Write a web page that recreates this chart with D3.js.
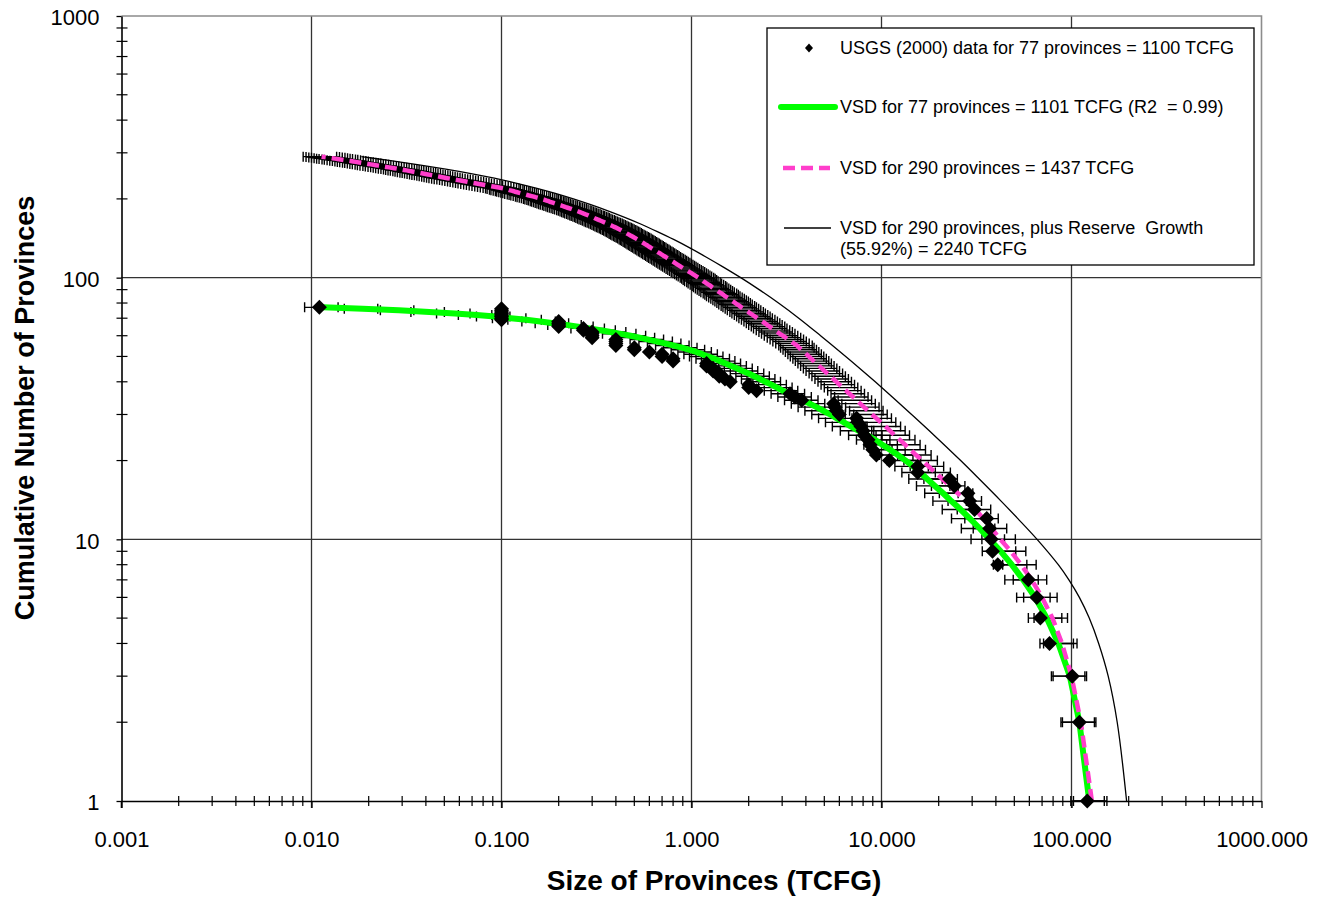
<!DOCTYPE html>
<html>
<head>
<meta charset="utf-8">
<script src="https://cdn.jsdelivr.net/npm/d3@7"></script>
<style>
  body { margin: 0; background: #fff; }
  text { font-family: "Liberation Sans", Arial, sans-serif; fill: #000; }
</style>
</head>
<body>
<script>
// ---- data ----
var xTickValues = [0.001, 0.01, 0.1, 1, 10, 100, 1000];
var yTickValues = [1, 10, 100, 1000];

// USGS (2000) province sizes (TCFG), rank 1..77 in order
var usgsSizes = [
  121, 110, 101, 76.6, 68.6, 65.7, 59.3, 40.9, 38.4, 37.8,
  37.1, 35.8, 30.9, 29.1, 28.5, 24.2, 22.8, 15.5, 15.5, 11.0,
  9.4, 9.0, 8.7, 8.5, 8.1, 8.0, 7.8, 7.5, 7.4, 6.0,
  5.8, 5.7, 5.6, 3.8, 3.5, 3.3, 2.2, 2.0, 2.0, 1.6,
  1.5, 1.4, 1.4, 1.3, 1.3, 1.2, 1.2, 0.8, 0.8, 0.7,
  0.7, 0.6, 0.5, 0.5, 0.4, 0.4, 0.4, 0.4, 0.3, 0.3,
  0.3, 0.3, 0.27, 0.27, 0.2, 0.2, 0.2, 0.2, 0.1, 0.1,
  0.1, 0.1, 0.1, 0.1, 0.1, 0.1, 0.011
];

// VSD fit for 77 provinces, rank 1..77
var vsd77Sizes = [
  124, 110, 98, 85.3, 74.1, 64.3, 55.7, 48.5, 42.4, 37.0,
  32.9, 29.2, 26.1, 23.3, 21.1, 19.1, 17.4, 16.0, 14.7, 13.4,
  12.2, 11.1, 10.1, 9.23, 8.39, 7.59, 6.89, 6.34, 5.83, 5.37,
  4.94, 4.55, 4.19, 3.86, 3.56, 3.28, 3.02, 2.82, 2.63, 2.45,
  2.29, 2.14, 2.00, 1.86, 1.74, 1.62, 1.51, 1.41, 1.32, 1.22,
  1.14, 1.06, 0.977, 0.891, 0.809, 0.733, 0.661, 0.594, 0.533, 0.478,
  0.425, 0.376, 0.331, 0.290, 0.253, 0.219, 0.188, 0.160, 0.135, 0.112,
  0.0923, 0.0741, 0.0569, 0.0417, 0.0288, 0.0186, 0.0115
];

// VSD for 290 provinces, rank 1..290
var vsd290Sizes = [
  128, 112, 100, 89.1, 79.4, 70.0, 61.7, 54.3, 47.9, 42.2,
  38.0, 34.3, 31.3, 28.0, 25.2, 22.9, 20.9, 19.2, 17.7, 16.4,
  15.2, 14.2, 13.3, 12.5, 11.7, 11.1, 10.5, 9.91, 9.40, 8.93,
  8.49, 8.09, 7.73, 7.39, 7.08, 6.78, 6.51, 6.25, 6.01, 5.79,
  5.58, 5.38, 5.20, 5.01, 4.85, 4.69, 4.54, 4.40, 4.27, 4.14,
  4.02, 3.90, 3.79, 3.68, 3.60, 3.47, 3.35, 3.24, 3.13, 3.02,
  2.92, 2.83, 2.74, 2.65, 2.58, 2.50, 2.43, 2.36, 2.29, 2.22,
  2.16, 2.10, 2.04, 1.99, 1.93, 1.88, 1.83, 1.79, 1.74, 1.70,
  1.66, 1.62, 1.58, 1.54, 1.50, 1.47, 1.44, 1.40, 1.37, 1.34,
  1.31, 1.28, 1.26, 1.23, 1.20, 1.18, 1.15, 1.13, 1.11, 1.09,
  1.064, 1.042, 1.020, 0.999, 0.978, 0.958, 0.938, 0.919, 0.900, 0.881,
  0.865, 0.848, 0.832, 0.817, 0.801, 0.786, 0.772, 0.757, 0.743, 0.730,
  0.717, 0.705, 0.692, 0.680, 0.668, 0.657, 0.645, 0.634, 0.623, 0.612,
  0.602, 0.592, 0.583, 0.573, 0.564, 0.555, 0.546, 0.537, 0.528, 0.520,
  0.511, 0.502, 0.494, 0.486, 0.477, 0.469, 0.461, 0.454, 0.446, 0.439,
  0.431, 0.424, 0.416, 0.409, 0.402, 0.395, 0.388, 0.381, 0.374, 0.367,
  0.360, 0.353, 0.346, 0.340, 0.333, 0.327, 0.320, 0.314, 0.308, 0.303,
  0.297, 0.291, 0.286, 0.280, 0.275, 0.269, 0.264, 0.259, 0.254, 0.249,
  0.244, 0.238, 0.233, 0.228, 0.223, 0.218, 0.214, 0.209, 0.205, 0.200,
  0.196, 0.192, 0.188, 0.184, 0.180, 0.177, 0.173, 0.170, 0.166, 0.163,
  0.159, 0.155, 0.151, 0.148, 0.144, 0.140, 0.137, 0.134, 0.130, 0.127,
  0.124, 0.121, 0.118, 0.116, 0.113, 0.110, 0.108, 0.105, 0.103, 0.100,
  0.0967, 0.0935, 0.0904, 0.0874, 0.0845, 0.0817, 0.0790, 0.0763, 0.0738, 0.0716,
  0.0693, 0.0671, 0.0650, 0.0629, 0.0609, 0.0590, 0.0571, 0.0553, 0.0536, 0.0519,
  0.0504, 0.0489, 0.0475, 0.0461, 0.0448, 0.0435, 0.0422, 0.0410, 0.0398, 0.0386,
  0.0375, 0.0365, 0.0354, 0.0344, 0.0335, 0.0325, 0.0316, 0.0307, 0.0299, 0.0290,
  0.0281, 0.0272, 0.0264, 0.0256, 0.0248, 0.0240, 0.0233, 0.0225, 0.0218, 0.0212,
  0.0205, 0.0199, 0.0193, 0.0187, 0.0182, 0.0176, 0.0171, 0.0166, 0.0161, 0.0156,
  0.0151, 0.0146, 0.0142, 0.0137, 0.0133, 0.0129, 0.0125, 0.0121, 0.0117, 0.0113
];

// VSD for 290 provinces plus reserve growth (55.92%)
var growthRanks = [1, 2, 3, 4, 5, 6, 7, 8, 10, 12, 14, 17, 20, 25, 30, 35, 40, 45, 50, 60, 70, 80, 90, 100,
                   110, 120, 130, 140, 150, 160, 170, 180, 190, 200, 210, 220, 230, 240, 250, 260, 270, 280, 290];
var growthSizes = [195, 174, 156, 139, 124, 110, 96.9, 85.2, 65.9, 52.2, 42.6, 32.7, 26.1, 18.9, 14.4, 11.4, 9.27, 7.69, 6.48,
                   4.78, 3.67, 2.87, 2.27, 1.816, 1.464, 1.192, 0.979, 0.805, 0.661, 0.544, 0.445, 0.363, 0.295, 0.239,
                   0.192, 0.152, 0.119, 0.0917, 0.0691, 0.0509, 0.0368, 0.0261, 0.0183];

var errorFraction = 0.2;   // +/- 20% x error bars on the VSD points

var legendLabels = [
  "USGS (2000) data for 77 provinces = 1100 TCFG",
  "VSD for 77 provinces = 1101 TCFG (R2  = 0.99)",
  "VSD for 290 provinces = 1437 TCFG",
  "VSD for 290 provinces, plus Reserve  Growth",
  "(55.92%) = 2240 TCFG"
];

// ---- layout ----
var width = 1330;
var height = 903;
var margin = { top: 16, right: 68.5, bottom: 102, left: 121.5 };
var graphWidth = width - margin.left - margin.right;
var graphHeight = height - margin.top - margin.bottom;

var svg = d3.select("body").append("svg")
  .attr("width", width)
  .attr("height", height);

var graphGroup = svg.append("g")
  .attr("transform", `translate(${margin.left}, ${margin.top})`);

var xScale = d3.scaleLog().domain([0.001, 1000]).range([0, graphWidth]);
var yScale = d3.scaleLog().domain([1, 1000]).range([graphHeight, 0]);

function toPoints(sizes) {
  return sizes.map(function(s, i) { return { size: s, rank: i + 1 }; });
}
var usgsData = toPoints(usgsSizes);
var vsd77Data = toPoints(vsd77Sizes);
var vsd290Data = toPoints(vsd290Sizes);
var growthData = growthSizes.map(function(s, i) { return { size: s, rank: growthRanks[i] }; });

// gridlines
graphGroup.append("g").selectAll("line")
  .data(xTickValues.slice(1, -1))
  .enter().append("line")
  .attr("x1", function(d) { return xScale(d); })
  .attr("x2", function(d) { return xScale(d); })
  .attr("y1", 0).attr("y2", graphHeight + 7)
  .attr("stroke", "#333").attr("stroke-width", 1.3);

graphGroup.append("g").selectAll("line")
  .data(yTickValues.slice(1, -1))
  .enter().append("line")
  .attr("x1", 0).attr("x2", graphWidth)
  .attr("y1", function(d) { return yScale(d); })
  .attr("y2", function(d) { return yScale(d); })
  .attr("stroke", "#333").attr("stroke-width", 1.3);

// frame top/right (grey)
graphGroup.append("path")
  .attr("d", `M0,0H${graphWidth}V${graphHeight}`)
  .attr("fill", "none").attr("stroke", "#8c8c8c").attr("stroke-width", 1.6);

// minor ticks
var minorX = [];
var minorY = [];
xTickValues.slice(0, -1).forEach(function(d) {
  for (var k = 2; k <= 9; k++) minorX.push(d * k);
});
yTickValues.slice(0, -1).forEach(function(d) {
  for (var k = 2; k <= 9; k++) minorY.push(d * k);
});

graphGroup.append("g").selectAll("line")
  .data(minorX).enter().append("line")
  .attr("x1", function(d) { return xScale(d); })
  .attr("x2", function(d) { return xScale(d); })
  .attr("y1", graphHeight - 5).attr("y2", graphHeight + 5)
  .attr("stroke", "#000").attr("stroke-width", 1.2);

graphGroup.append("g").selectAll("line")
  .data(minorY).enter().append("line")
  .attr("x1", -5).attr("x2", 6)
  .attr("y1", function(d) { return yScale(d); })
  .attr("y2", function(d) { return yScale(d); })
  .attr("stroke", "#000").attr("stroke-width", 1.2);

// axes
var bottomAxis = d3.axisBottom(xScale)
  .tickValues(xTickValues)
  .tickFormat(d3.format(".3f"))
  .tickSize(7).tickSizeOuter(0).tickPadding(23);
var leftAxis = d3.axisLeft(yScale)
  .tickValues(yTickValues)
  .tickFormat(d3.format("d"))
  .tickSize(5).tickSizeOuter(0).tickPadding(17);

var xAxisG = graphGroup.append("g")
  .attr("transform", `translate(0, ${graphHeight})`)
  .call(bottomAxis);
var yAxisG = graphGroup.append("g").call(leftAxis);

[xAxisG, yAxisG].forEach(function(g) {
  g.select(".domain").attr("stroke", "#000").attr("stroke-width", 1.6);
  g.selectAll(".tick line").attr("stroke", "#000").attr("stroke-width", 1.3);
  g.selectAll(".tick text")
    .style("font-family", '"Liberation Sans", Arial, sans-serif')
    .style("font-size", "22px").attr("fill", "#000");
});
yAxisG.selectAll(".tick text").attr("dy", "0.4em");
// left axis continues a bit below the x axis
graphGroup.append("line")
  .attr("x1", 0).attr("x2", 0)
  .attr("y1", graphHeight).attr("y2", graphHeight + 7)
  .attr("stroke", "#000").attr("stroke-width", 1.6);

// error bars on the VSD points
function drawErrorBars(data) {
  var g = graphGroup.append("g")
    .attr("stroke", "#000").attr("stroke-width", 1.4).attr("fill", "none");
  g.selectAll("path")
    .data(data).enter().append("path")
    .attr("d", function(d) {
      var x0 = xScale(d.size * (1 - errorFraction));
      var x1 = xScale(d.size * (1 + errorFraction));
      var yy = yScale(d.rank);
      return `M${x0},${yy}H${x1}M${x0},${yy - 5}V${yy + 5}M${x1},${yy - 5}V${yy + 5}`;
    });
}
drawErrorBars(vsd290Data);
drawErrorBars(vsd77Data);

var line = d3.line()
  .x(function(d) { return xScale(d.size); })
  .y(function(d) { return yScale(d.rank); });

// reserve growth curve
graphGroup.append("path")
  .datum(growthData)
  .attr("d", line.curve(d3.curveCatmullRom.alpha(0.5)))
  .attr("fill", "none").attr("stroke", "#000").attr("stroke-width", 1.3);

line.curve(d3.curveLinear);

// VSD 77
graphGroup.append("path")
  .datum(vsd77Data)
  .attr("d", line)
  .attr("fill", "none").attr("stroke", "#00ff00").attr("stroke-width", 6)
  .attr("stroke-linejoin", "round");

// VSD 290
graphGroup.append("path")
  .datum(vsd290Data)
  .attr("d", line)
  .attr("fill", "none").attr("stroke", "#ff3ecb").attr("stroke-width", 4.5)
  .attr("stroke-dasharray", "12,6");

// USGS diamonds
var diamond = "M0,-7.5L7.5,0L0,7.5L-7.5,0Z";
graphGroup.append("g").selectAll("path")
  .data(usgsData).enter().append("path")
  .attr("d", diamond)
  .attr("transform", function(d) { return `translate(${xScale(d.size)}, ${yScale(d.rank)})`; })
  .attr("fill", "#000");

// legend
var legend = svg.append("g");
legend.append("rect")
  .attr("x", 767).attr("y", 28)
  .attr("width", 487).attr("height", 237)
  .attr("fill", "#fff").attr("stroke", "#000").attr("stroke-width", 1.3);

var legendRows = [48, 107, 168, 228];
legend.append("path")
  .attr("d", "M0,-4.5L4,0L0,4.5L-4,0Z")
  .attr("transform", `translate(809, ${legendRows[0]})`)
  .attr("fill", "#000");
legend.append("line")
  .attr("x1", 781).attr("x2", 835).attr("y1", legendRows[1]).attr("y2", legendRows[1])
  .attr("stroke", "#00ff00").attr("stroke-width", 6).attr("stroke-linecap", "round");
legend.append("line")
  .attr("x1", 783).attr("x2", 830).attr("y1", legendRows[2]).attr("y2", legendRows[2])
  .attr("stroke", "#ff3ecb").attr("stroke-width", 4.5).attr("stroke-dasharray", "12,6");
legend.append("line")
  .attr("x1", 784).attr("x2", 831).attr("y1", legendRows[3]).attr("y2", legendRows[3])
  .attr("stroke", "#000").attr("stroke-width", 1.3);

var legendTextY = [legendRows[0], legendRows[1], legendRows[2], legendRows[3], legendRows[3] + 21];
legend.selectAll("text.lg")
  .data(legendLabels).enter().append("text")
  .attr("class", "lg")
  .attr("x", 840)
  .attr("y", function(d, i) { return legendTextY[i]; })
  .attr("dy", "0.35em")
  .style("font-size", "18px")
  .style("white-space", "pre")
  .text(function(d) { return d; });

// axis titles
svg.append("text")
  .attr("x", 714).attr("y", 890)
  .attr("text-anchor", "middle")
  .style("font-size", "28px").style("font-weight", "bold")
  .text("Size of Provinces (TCFG)");

svg.append("text")
  .attr("transform", "translate(34, 408) rotate(-90)")
  .attr("text-anchor", "middle")
  .style("font-size", "27px").style("font-weight", "bold")
  .text("Cumulative Number of Provinces");
</script>
</body>
</html>
